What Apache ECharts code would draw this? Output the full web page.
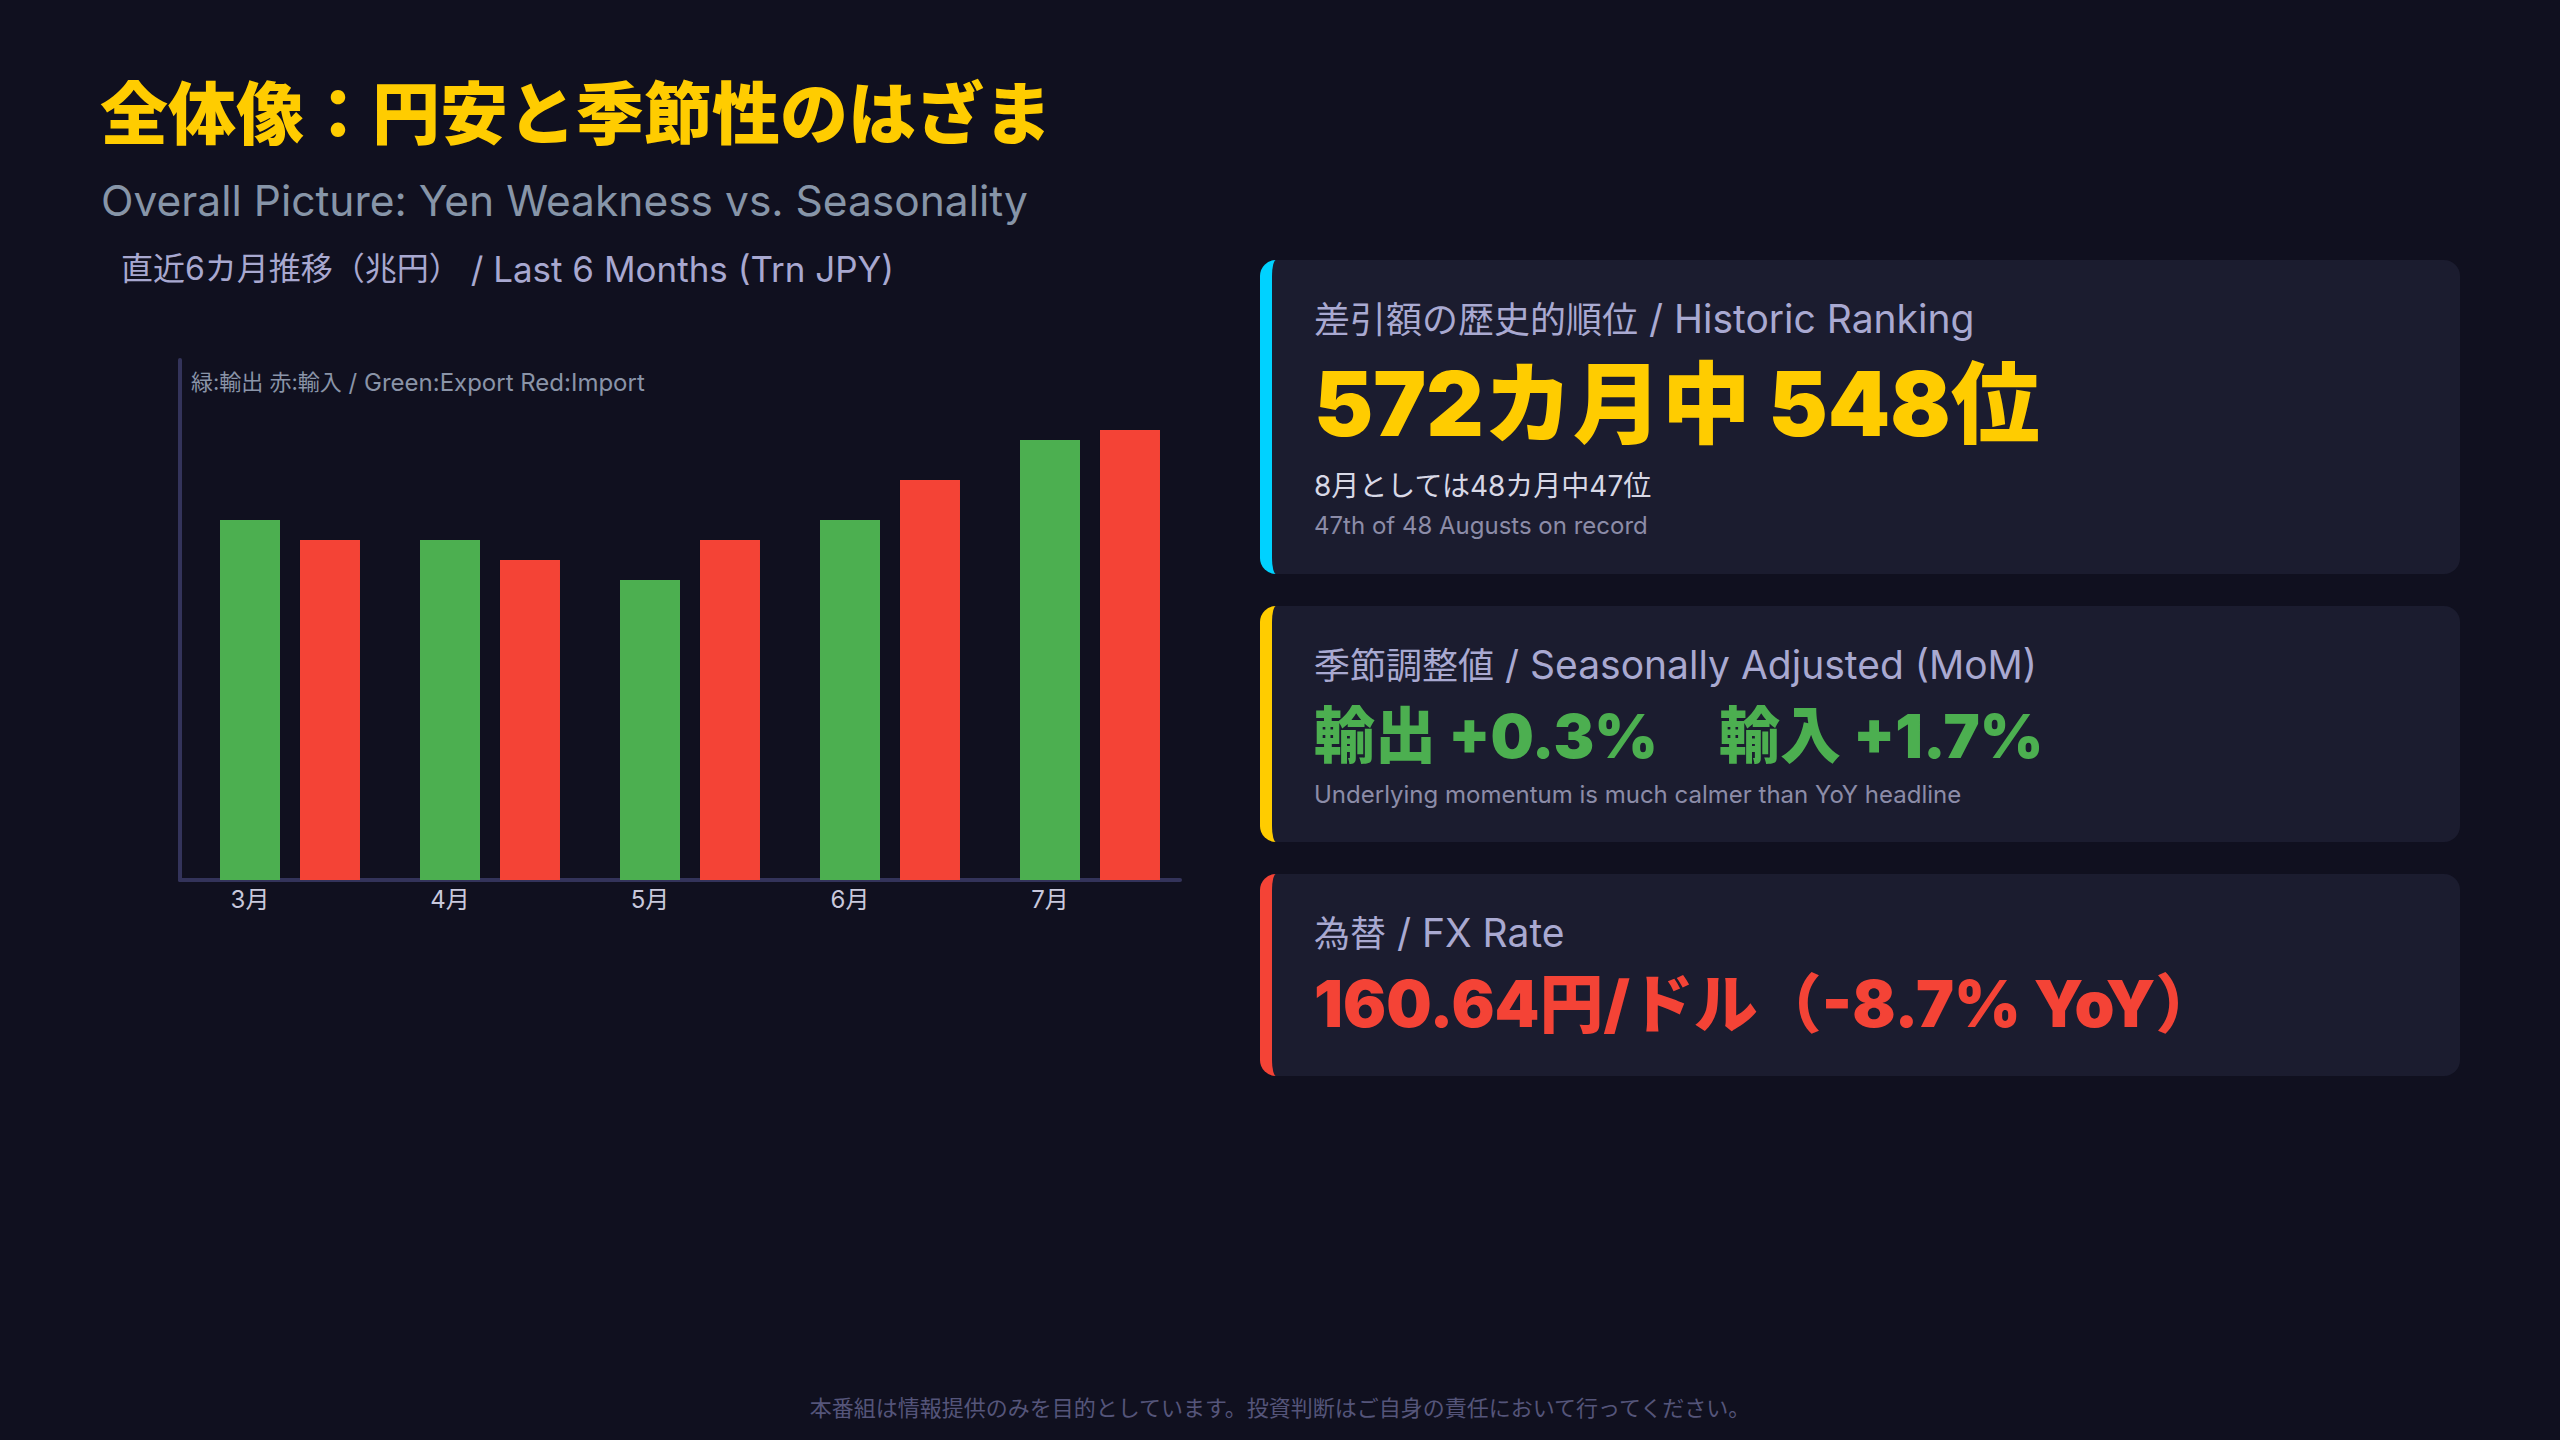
<!DOCTYPE html>
<html lang="ja">
<head>
<meta charset="utf-8">
<title>全体像：円安と季節性のはざま</title>
<script src="https://cdn.jsdelivr.net/npm/echarts@6/dist/echarts.min.js"></script>
<style>
  html, body {
    margin: 0;
    padding: 0;
    width: 2560px;
    height: 1440px;
    overflow: hidden;
    background: #10101f;
    font-family: Inter, "Noto Sans CJK JP", sans-serif;
  }
  .abs { position: absolute; white-space: nowrap; }
  #title {
    left: 100px; top: 65px; line-height: 90px;
    font-family: "Noto Sans CJK JP", sans-serif;
    font-size: 68px; font-weight: 900; color: #ffcc00;
  }
  #subtitle {
    left: 101px; top: 176px; line-height: 50px;
    font-size: 42.5px; color: #8795a8;
  }
  #chart { left: 0; top: 230px; width: 1240px; height: 720px; }
  .card {
    position: absolute;
    left: 1260px;
    width: 1200px;
    box-sizing: border-box;
    background: #1b1c2f;
    border-radius: 16px;
    border-left: 12px solid #00d2ff;
  }
  .card .t { position: absolute; left: 42px; white-space: nowrap; }
  .ctitle { top: 34px; line-height: 50px; font-size: 36px; color: #a9a9d1; }
  .ctitle .en { font-size: 39px; }
  .big { font-weight: 900; }
  #footer {
    left: 0; width: 2560px; top: 1390px; line-height: 32px;
    font-family: "Noto Sans CJK JP", sans-serif;
    text-align: center; font-size: 22px; color: #55557a;
  }
</style>
</head>
<body>

<div id="title" class="abs">全体像：円安と季節性のはざま</div>
<div id="subtitle" class="abs">Overall Picture: Yen Weakness vs. Seasonality</div>

<div id="chart" class="abs"></div>

<!-- 右側のカード -->
<div class="card" style="top:260px; height:314px; border-left-color:#00d2ff;">
  <div class="t ctitle">差引額の歴史的順位<span class="en"> / Historic Ranking</span></div>
  <div class="t big" style="top:89px; line-height:110px; font-size:89px; color:#ffcc00;">572カ月中 548位</div>
  <div class="t" style="top:206px; line-height:40px; font-size:28px; color:#d8d8e6;">8月としては48カ月中47位</div>
  <div class="t" style="top:248px; line-height:36px; font-size:24px; color:#8c8ca8;">47th of 48 Augusts on record</div>
</div>

<div class="card" style="top:606px; height:236px; border-left-color:#ffcc00;">
  <div class="t ctitle">季節調整値<span class="en"> / Seasonally Adjusted (MoM)</span></div>
  <div class="t big" style="top:90px; line-height:80px; font-size:61px; color:#4caf50;">輸出 +0.3%　輸入 +1.7%</div>
  <div class="t" style="top:171px; line-height:36px; font-size:24px; color:#8c8ca8;">Underlying momentum is much calmer than YoY headline</div>
</div>

<div class="card" style="top:874px; height:202px; border-left-color:#f44336;">
  <div class="t ctitle">為替<span class="en"> / FX Rate</span></div>
  <div class="t big" style="top:90px; line-height:80px; font-size:64px; color:#f44336;">160.64円/ドル（-8.7% YoY）</div>
</div>

<div id="footer" class="abs">本番組は情報提供のみを目的としています。投資判断はご自身の責任において行ってください。</div>

<script>
// 直近の輸出入（兆円）
const months = ['3月', '4月', '5月', '6月', '7月'];
const exportVals = [9.0, 8.5, 7.5, 9.0, 11.0];
const importVals = [8.5, 8.0, 8.5, 10.0, 11.25];
const yMax = 13;

const font = 'Inter, "Noto Sans CJK JP", sans-serif';
const axisColor = '#33335a';

let myChart = echarts.init(document.getElementById('chart'), null, { renderer: 'svg' });

let option = {
  animation: false,
  title: [
    {
      text: '{jp|直近6カ月推移（兆円）}{en| / Last 6 Months (Trn JPY)}',
      left: 121,
      top: 21,
      padding: 0,
      textStyle: {
        fontFamily: font,
        fontWeight: 'normal',
        color: '#a8a8d0',
        rich: {
          jp: { fontFamily: font, fontWeight: 'normal', fontSize: 32, color: '#a8a8d0' },
          en: { fontFamily: font, fontWeight: 'normal', fontSize: 35, color: '#a8a8d0' }
        }
      }
    },
    {
      text: '{jp|緑:輸出 赤:輸入}{en| / Green:Export Red:Import}',
      left: 191,
      top: 140,
      padding: 0,
      textStyle: {
        fontFamily: font,
        fontWeight: 'normal',
        color: '#8a94a8',
        rich: {
          jp: { fontFamily: font, fontWeight: 'normal', fontSize: 22, color: '#8a94a8' },
          en: { fontFamily: font, fontWeight: 'normal', fontSize: 24, color: '#8a94a8' }
        }
      }
    }
  ],
  // grid 0: 軸線とラベル, grid 1: 棒
  grid: [
    { left: 180, top: 130, width: 1000, height: 520 },
    { left: 190, top: 130, width: 1000, height: 520 }
  ],
  xAxis: [
    {
      type: 'category',
      gridIndex: 0,
      data: months,
      axisLine: { show: true, lineStyle: { color: axisColor, width: 4 } },
      axisTick: { show: false },
      axisLabel: {
        color: '#c8c8dc',
        fontFamily: font,
        fontSize: 24,
        margin: 7,
        padding: [0, 60, 0, 0]
      }
    },
    {
      type: 'category',
      gridIndex: 1,
      data: months,
      show: false
    }
  ],
  yAxis: [
    {
      type: 'value',
      gridIndex: 0,
      min: 0,
      max: yMax,
      axisLine: { show: true, lineStyle: { color: axisColor, width: 4 } },
      axisTick: { show: false },
      axisLabel: { show: false },
      splitLine: { show: false }
    },
    {
      type: 'value',
      gridIndex: 1,
      min: 0,
      max: yMax,
      show: false,
      splitLine: { show: false }
    }
  ],
  series: [
    {
      name: '輸出',
      type: 'bar',
      xAxisIndex: 1,
      yAxisIndex: 1,
      data: exportVals,
      barWidth: 60,
      barGap: '33.33%',
      itemStyle: { color: '#4caf50' }
    },
    {
      name: '輸入',
      type: 'bar',
      xAxisIndex: 1,
      yAxisIndex: 1,
      data: importVals,
      barWidth: 60,
      barGap: '33.33%',
      itemStyle: { color: '#f44336' }
    }
  ]
};
myChart.setOption(option);

window.addEventListener('resize', function () {
  myChart.resize();
});
</script>
</body>
</html>
